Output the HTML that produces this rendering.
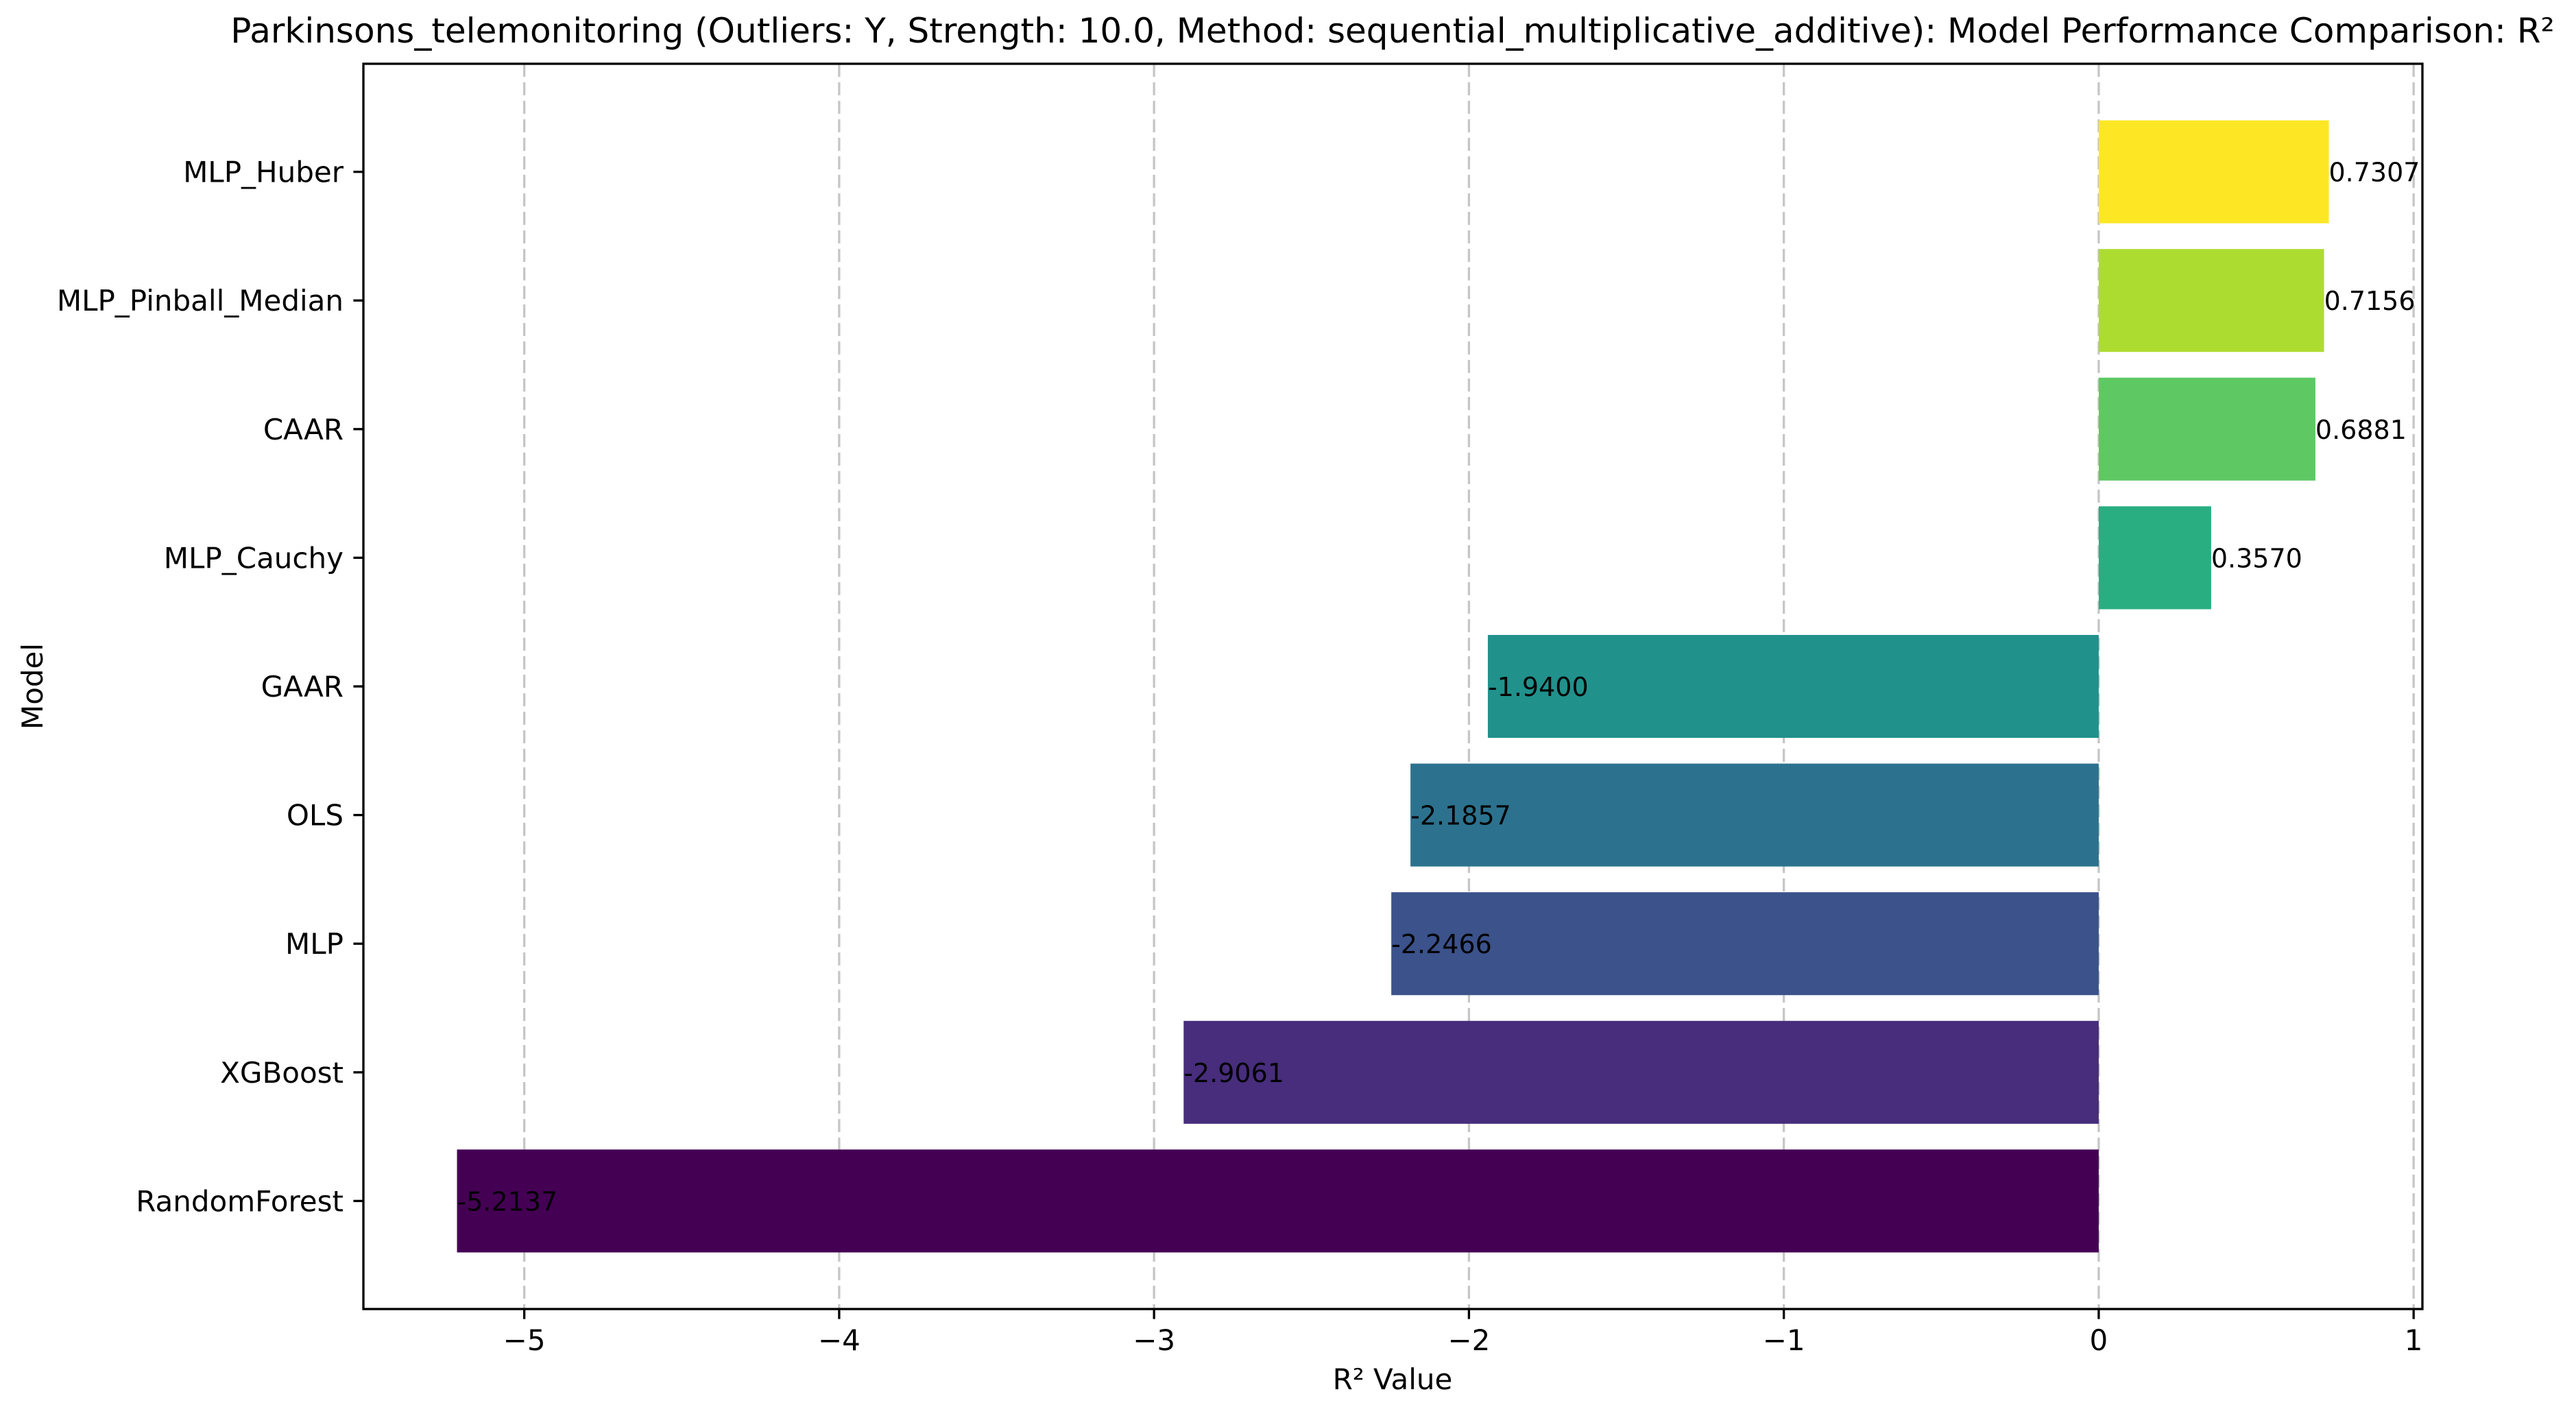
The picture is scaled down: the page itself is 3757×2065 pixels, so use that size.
<!DOCTYPE html>
<html><head><meta charset="utf-8"><style>
html,body{margin:0;padding:0;background:#fff}
svg{display:block;font-family:"DejaVu Sans","Liberation Sans",sans-serif}
</style></head><body>
<svg id="chart" width="3757" height="2065" viewBox="0 0 3757 2065" xmlns="http://www.w3.org/2000/svg">
<rect width="3757" height="2065" fill="#fff"/>
<text x="2031" y="62" font-size="50" text-anchor="middle">Parkinsons_telemonitoring (Outliers: Y, Strength: 10.0, Method: sequential_multiplicative_additive): Model Performance Comparison: R²</text>
<g id="grid"></g><g id="bars"></g><g id="labels"></g><g id="axes"></g>
<text x="2031" y="2026" font-size="42" text-anchor="middle">R² Value</text>
<text x="62" y="1001" font-size="42" text-anchor="middle" transform="rotate(-90 62 1001)">Model</text>
</svg>
<script>
const models = ["RandomForest","XGBoost","MLP","OLS","GAAR","MLP_Cauchy","CAAR","MLP_Pinball_Median","MLP_Huber"];
const r2Values = [-5.2137,-2.9061,-2.2466,-2.1857,-1.9400,0.3570,0.6881,0.7156,0.7307];
const valueLabels = ["-5.2137","-2.9061","-2.2466","-2.1857","-1.9400","0.3570","0.6881","0.7156","0.7307"];
const xTicks = [-5,-4,-3,-2,-1,0,1];
const xTickLabels = ["\u22125","\u22124","\u22123","\u22122","\u22121","0","1"];
const barColors = ["#440154","#472d7b","#3b528b","#2c728e","#21918c","#28ae80","#5ec962","#addc30","#fde725"];

const NS="http://www.w3.org/2000/svg";
const L=530,R=3533,T=93,B=1909;
const vmin=Math.min(0,...r2Values),vmax=Math.max(0,...r2Values),pad=(vmax-vmin)*0.05;
const x0=vmin-pad,x1=vmax+pad;
const n=models.length,y0=-0.5-0.34,y1=n-0.5+0.34;
const xs=v=>L+(v-x0)/(x1-x0)*(R-L);
const ys=i=>B-(i-y0)/(y1-y0)*(B-T);
function mk(tag,attrs,parent){const e=document.createElementNS(NS,tag);for(const k in attrs)e.setAttribute(k,attrs[k]);parent.appendChild(e);return e;}
const grid=document.getElementById('grid'),bars=document.getElementById('bars'),labels=document.getElementById('labels'),axes=document.getElementById('axes');
xTicks.forEach((t,k)=>{
  const x=xs(t);
  const g=mk('line',{x1:x,x2:x,y1:T,y2:B,stroke:'#c6c6c6','stroke-width':3.3,'stroke-dasharray':'19 8'},grid);
  
  
  const tk=mk('line',{x1:x,x2:x,y1:B,y2:B+14.6,stroke:'#000','stroke-width':3.3},axes);
  
  
  const tl=mk('text',{x:x,y:B+60,'font-size':42,'text-anchor':'middle'},axes);
  tl.textContent=xTickLabels[k];
  
  
});
const bh=0.8*(B-T)/(y1-y0);
models.forEach((m,i)=>{
  const yc=ys(i),v=r2Values[i];
  const a=xs(Math.min(0,v)),b=xs(Math.max(0,v));
  const r=mk('rect',{x:a,y:yc-bh/2,width:b-a,height:bh,fill:barColors[i]},bars);
  
  
  const vl=mk('text',{x:xs(v),y:yc+14,'font-size':38},labels);
  vl.textContent=valueLabels[i];
  
  
  const tk=mk('line',{x1:L-14.6,x2:L,y1:yc,y2:yc,stroke:'#000','stroke-width':3.3},axes);
  
  
  const tl=mk('text',{x:L-29,y:yc+15,'font-size':42,'text-anchor':'end'},axes);
  tl.textContent=m;
  
  
});
const frame=mk('rect',{x:L,y:T,width:R-L,height:B-T,fill:'none',stroke:'#000','stroke-width':3.3},axes);


</script>
</body></html>
